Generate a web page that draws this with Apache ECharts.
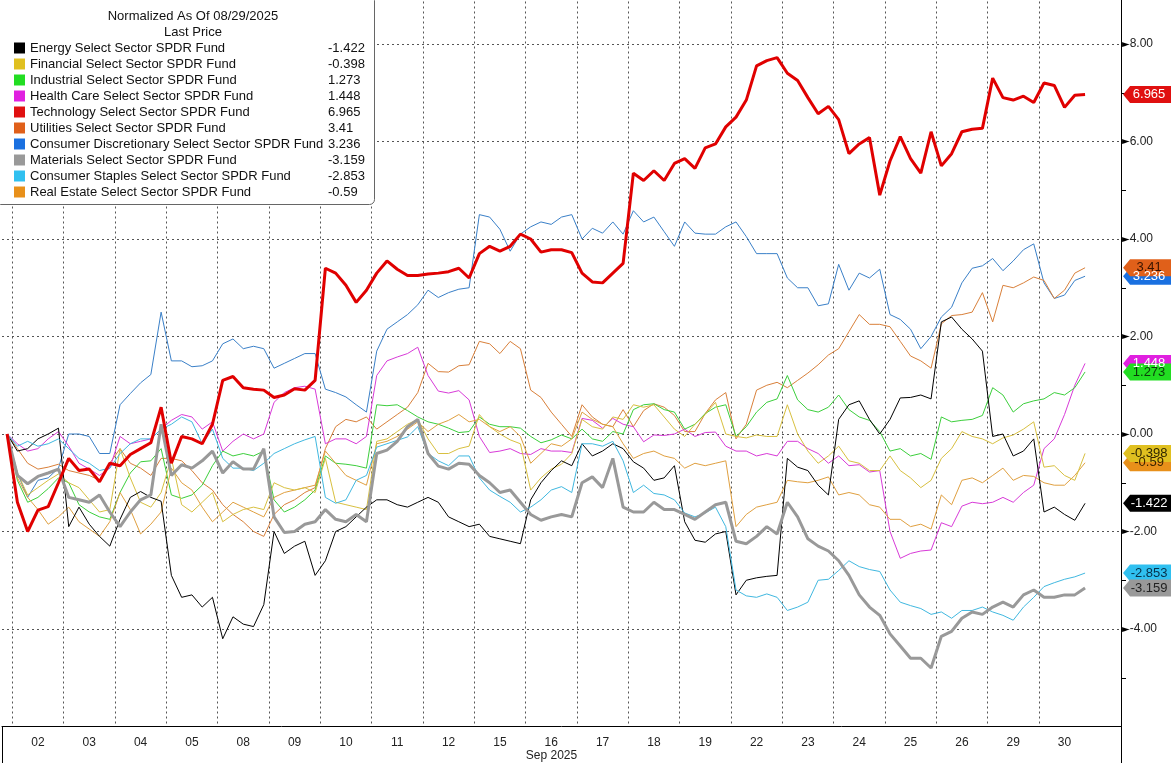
<!DOCTYPE html>
<html>
<head>
<meta charset="utf-8">
<script src="https://cdn.jsdelivr.net/npm/echarts@6/dist/echarts.min.js"></script>
<style>
  html, body { margin: 0; padding: 0; background: #fff; }
  #main { width: 1171px; height: 763px; }
</style>
</head>
<body>
<div id="main"></div>
<script>
// trading days of Sep 2025, 5 intraday points per day, plus the 08/29 base point
const dayLabels = ['02', '03', '04', '05', '08', '09', '10', '11', '12', '15', '16', '17', '18', '19', '22', '23', '24', '25', '26', '29', '30'];
const PTS = 5;

const energy = [0,
  -0.35, -0.3, -0.1, 0.0, 0.12,   -1.9, -1.5, -1.85, -2.1, -2.3,   -1.75, -1.3, -1.18, -1.3, -1.38,
  -2.9, -3.35, -3.3, -3.55, -3.35,   -4.2, -3.75, -3.9, -3.95, -3.5,   -2.0, -2.45, -2.3, -2.2, -2.9,
  -2.6, -2.0, -1.9, -1.7, -1.5,   -1.35, -1.35, -1.45, -1.5, -1.4,   -1.3, -1.4, -1.7, -1.8, -1.9,
  -1.85, -2.1, -2.15, -2.2, -2.25,   -1.35, -1.0, -0.75, -0.55, -0.65,   -0.2, -0.45, -0.35, -0.2, -0.3,
  -0.57, -0.7, -0.95, -0.9, -0.65,   -1.8, -2.18, -2.22, -2.05, -2.0,   -3.3, -3.0, -2.95, -2.92, -2.9,
  -0.5, -0.68, -0.75, -1.05, -1.25,   0.3, 0.6, 0.68, 0.3, 0.0,   0.3, 0.74, 0.75, 0.8, 0.72,
  2.3, 2.4, 2.15, 1.95, 1.7,   -0.05, 0.0, -0.45, -0.35, -0.1,   -1.6, -1.5, -1.65, -1.77, -1.422];

const financial = [0,
  -0.8, -1.25, -1.1, -0.95, -0.82,   -1.0, -1.1, -1.35, -1.6, -1.55,   -0.3, -0.9, -1.4, -1.5, -1.2,
  -0.5, -1.45, -1.6, -1.4, -1.2,   -1.8, -1.65, -1.55, -1.5, -1.55,   -1.0, -1.1, -1.15, -1.1, -1.2,
  -0.5, -1.4, -1.45, -1.5, -1.55,   -0.15, -0.1, 0.05, 0.2, 0.3,   -0.1, -0.4, -0.4, -0.3, -0.25,
  0.4, 0.15, 0.0, -0.12, -0.2,   -1.15, -0.9, -0.72, -0.62, -0.4,   0.3, 0.15, 0.1, 0.35, 0.3,
  0.6, 0.55, 0.6, 0.35, 0.1,   -0.05, 0.2, 0.4, 0.65, 0.0,   -0.05, -0.08, -0.02, -0.05, -0.05,
  0.6, 0.0, -0.35, -0.6, -0.45,   -0.25, -0.55, -0.6, -0.75, -0.75,   -0.45, -0.75, -0.9, -1.1, -0.95,
  -0.5, -0.3, 0.05, -0.05, -0.1,   -0.2, -0.08, -0.02, 0.1, 0.25,   -0.68, -0.65, -0.85, -0.95, -0.398];

const industrial = [0,
  -0.95, -1.4, -1.3, -1.12, -0.9,   -1.0, -1.45, -1.6, -1.7, -1.75,   -1.2, -0.8, -0.57, -0.55, -0.3,
  -1.25, -1.32, -1.25, -1.05, -0.65,   -0.35, -0.45, -0.4, -0.45, -0.35,   -1.35, -1.6, -1.5, -1.35, -1.15,
  -0.45, -0.6, -0.62, -0.65, -0.7,   0.6, 0.58, 0.6, 0.48, 0.35,   0.25, 0.2, 0.12, 0.03, 0.05,
  0.35, 0.2, 0.15, 0.15, 0.12,   -0.05, -0.18, -0.12, -0.02, -0.1,   0.1, -0.1, -0.15, 0.05, 0.0,
  0.5, 0.6, 0.62, 0.5, 0.45,   0.1, 0.2, 0.42, 0.55, 0.6,   -0.05, 0.15, 0.45, 0.65, 0.72,
  1.2, 0.7, 0.5, 0.45, 0.55,   0.8, 0.5, 0.35, 0.28, 0.05,   -0.35, -0.3, -0.45, -0.4, -0.52,
  0.35, 0.25, 0.28, 0.3, 0.38,   0.95, 0.8, 0.45, 0.62, 0.68,   0.72, 0.85, 0.8, 0.95, 1.273];

const healthCare = [0,
  -0.2, -0.35, -0.3, -0.1, 0.05,   -0.25, -0.6, -0.72, -0.85, -0.7,   -0.05, -0.2, -0.15, -0.1, 0.1,
  0.28, 0.4, 0.35, 0.1, 0.25,   -0.35, -0.15, 0.0, -0.1, 0.0,   0.65, 0.85, 0.95, 0.98, 0.92,
  -0.2, -0.1, -0.1, -0.2, -0.05,   1.2, 1.5, 1.58, 1.65, 1.78,   1.2, 0.88, 0.84, 0.89, 0.7,
  -0.05, -0.38, -0.35, -0.3, -0.4,   -0.42, -0.3, -0.35, -0.35, -0.38,   0.32, 0.28, 0.12, 0.32, 0.2,
  0.15, -0.16, -0.02, -0.03, 0.0,   0.1, -0.05, 0.03, 0.04, -0.25,   -0.35, -0.35, -0.45, -0.4, -0.45,
  -0.15, -0.15, -0.3, -0.4, -0.6,   -0.45, -0.65, -0.63, -0.78, -0.75,   -2.0, -2.55, -2.45, -2.4, -2.38,
  -1.82, -1.9, -1.48, -1.4, -1.43,   -1.4, -1.3, -1.4, -1.2, -1.05,   -0.3, -0.1, 0.4, 1.0, 1.448];

const technology = [0,
  -1.4, -2.0, -1.56, -1.49, -1.0,   -0.5, -0.75, -0.72, -0.98, -0.6,   -0.65, -0.42, -0.3, -0.18, 0.55,
  -0.6, -0.05, -0.1, -0.2, 0.2,   1.1, 1.18, 0.95, 0.92, 0.9,   0.75, 0.8, 0.93, 0.9, 1.1,
  3.4, 3.3, 3.05, 2.7, 2.95,   3.3, 3.55, 3.38, 3.25, 3.25,   3.28, 3.3, 3.33, 3.4, 3.2,
  3.7, 3.85, 3.75, 3.85, 4.1,   4.0, 3.73, 3.78, 3.78, 3.72,   3.3, 3.12, 3.1, 3.3, 3.5,
  5.35, 5.2, 5.4, 5.2, 5.55,   5.65, 5.45, 5.87, 5.95, 6.3,   6.5, 6.85, 7.55, 7.66, 7.72,
  7.4, 7.25, 6.9, 6.57, 6.72,   6.45, 5.75, 5.95, 6.08, 4.9,   5.6, 6.1, 5.65, 5.35, 6.2,
  5.5, 5.75, 6.2, 6.25, 6.27,   7.3, 6.9, 6.85, 6.93, 6.8,   7.2, 7.15, 6.7, 6.95, 6.965];

const utilities = [0,
  -0.3, -0.6, -0.72, -0.68, -0.62,   -0.75, -0.8, -0.85, -0.95, -0.6,   -0.3, -0.6, -0.7, -0.85, -0.5,
  -0.5, -0.55, -0.75, -1.0, -1.15,   -1.45, -1.65, -1.8, -2.0, -2.1,   -1.65, -1.45, -1.35, -1.2, -1.1,
  -0.3, 0.15, 0.3, 0.25, 0.35,   0.1, 0.25, 0.4, 0.55, 0.85,   1.45, 1.28, 1.27, 1.4, 1.42,
  1.9, 1.85, 1.65, 1.9, 1.75,   0.9, 0.75, 0.45, 0.2, -0.05,   0.6, 0.35, 0.2, 0.15, 0.5,
  0.15, 0.48, 0.62, 0.55, 0.38,   0.05, 0.05, 0.42, 0.7, 0.85,   -0.1, 0.2, 0.9, 1.0, 1.06,
  0.95, 1.1, 1.25, 1.42, 1.62,   1.75, 2.1, 2.45, 2.25, 2.25,   2.2, 1.9, 1.6, 1.5, 1.35,
  2.26, 2.43, 2.45, 2.5, 2.9,   2.3, 3.05, 3.0, 3.1, 3.22,   3.15, 2.78, 2.95, 3.3, 3.41];

const consDiscretionary = [0,
  -0.8, -1.3, -0.95, -0.9, -0.7,   0.0, 0.0, -0.05, -0.4, -0.4,   0.6, 0.83, 1.05, 1.22, 2.5,
  1.5, 1.5, 1.38, 1.4, 1.5,   1.85, 1.95, 1.75, 1.8, 1.75,   1.35, 1.45, 1.55, 1.65, 1.65,
  0.92, 0.85, 0.76, 0.6, 0.45,   1.7, 2.15, 2.3, 2.45, 2.65,   2.95, 2.8, 2.9, 2.97, 3.0,
  4.5, 4.45, 4.2, 3.75, 4.1,   4.25, 4.35, 4.3, 4.45, 4.5,   4.0, 4.22, 4.12, 4.35, 4.1,
  4.58, 4.35, 4.45, 4.15, 3.85,   4.35, 4.12, 4.1, 4.1, 4.25,   4.35, 4.05, 3.7, 3.7, 3.7,
  3.2, 3.0, 3.0, 2.63, 2.67,   3.48, 2.95, 3.3, 3.2, 3.38,   2.45, 2.35, 2.15, 1.75, 2.0,
  2.4, 2.6, 3.1, 3.4, 3.45,   3.6, 3.35, 3.55, 3.78, 3.9,   3.1, 2.78, 2.85, 3.15, 3.236];

const materials = [0,
  -0.85, -1.02, -0.87, -0.8, -0.72,   -1.3, -1.35, -1.4, -1.25, -1.6,   -1.9, -1.6, -1.35, -1.25, 0.2,
  -0.85, -0.63, -0.7, -0.55, -0.35,   -0.8, -0.57, -0.72, -0.72, -0.3,   -1.7, -2.02, -2.0, -1.85, -1.8,
  -1.55, -1.75, -1.8, -1.65, -1.8,   -0.4, -0.33, -0.15, 0.15, 0.3,   -0.4, -0.66, -0.72, -0.6, -0.62,
  -0.85, -1.0, -1.2, -1.15, -1.4,   -1.65, -1.77, -1.7, -1.65, -1.7,   -1.0, -0.88, -1.1, -0.5, -1.5,
  -1.6, -1.6, -1.4, -1.55, -1.55,   -1.65, -1.75, -1.6, -1.45, -1.4,   -2.2, -2.25, -2.1, -1.9, -2.05,
  -1.4, -1.7, -2.15, -2.3, -2.4,   -2.6, -2.9, -3.3, -3.55, -3.72,   -4.1, -4.35, -4.6, -4.6, -4.8,
  -4.15, -4.05, -3.78, -3.65, -3.7,   -3.55, -3.45, -3.55, -3.3, -3.2,   -3.35, -3.35, -3.3, -3.3, -3.159];

const consStaples = [0,
  -0.25, -0.15, -0.25, -0.2, -0.1,   -0.3, -0.5, -0.6, -0.75, -0.7,   -0.4, -0.2, -0.1, -0.1, 0.1,
  0.2, 0.35, 0.25, -0.2, 0.1,   -0.5, -0.7, -0.7, -0.75, -0.6,   -0.4, -0.3, -0.2, -0.12, -0.05,
  -1.3, -1.42, -1.35, -0.95, -0.85,   -0.27, -0.2, -0.13, -0.06, 0.15,   -0.4, -0.55, -0.65, -0.45, -0.45,
  -0.9, -1.15, -1.28, -1.4, -1.6,   -1.5, -1.35, -1.15, -1.08, -1.2,   -0.2, -0.2, -0.25, -0.15, -0.55,
  -1.2, -1.05, -1.22, -1.25, -1.35,   -1.62, -1.7, -1.62, -1.5, -1.9,   -3.2, -3.32, -3.35, -3.28, -3.35,
  -3.62, -3.55, -3.45, -3.0, -2.98,   -2.8, -2.6, -2.72, -2.78, -2.82,   -3.2, -3.45, -3.52, -3.58, -3.7,
  -3.65, -3.78, -3.62, -3.62, -3.55,   -3.65, -3.72, -3.82, -3.55, -3.35,   -3.13, -3.05, -2.98, -2.93, -2.853];

const realEstate = [0,
  -0.9, -1.3, -1.55, -1.85, -1.7,   -1.5, -1.8, -1.95, -2.1, -1.8,   -1.2, -1.55, -2.05, -1.85, -1.6,
  -0.7, -1.0, -1.15, -1.5, -1.8,   -1.6, -1.4, -1.5, -1.6, -1.7,   -1.3, -1.2, -1.15, -1.1, -1.05,
  -0.35, -0.6, -0.85, -0.95, -1.05,   -0.2, -0.15, -0.05, 0.1, 0.25,   0.05, 0.2, 0.28, 0.4, 0.25,
  0.3, 0.15, 0.05, 0.15, -0.05,   -0.6, -0.4, -0.2, -0.25, -0.1,   0.45, 0.3, 0.2, 0.15, -0.2,
  -0.5, -0.4, -0.35, -0.45, -0.5,   -0.7, -0.6, -0.65, -0.6, -0.55,   -1.9, -1.65, -1.5, -1.45, -1.4,
  -0.95, -0.98, -1.0, -0.95, -0.88,   -1.25, -1.2, -1.25, -1.45, -1.5,   -1.75, -1.75, -1.9, -1.85, -1.95,
  -1.25, -1.45, -0.95, -0.9, -1.0,   -0.85, -0.7, -0.95, -0.85, -0.87,   -1.0, -1.05, -1.05, -0.85, -0.59];

// legend order as in the original panel
const legendNames = [
  'Energy Select Sector SPDR Fund',
  'Financial Select Sector SPDR Fund',
  'Industrial Select Sector SPDR Fund',
  'Health Care Select Sector SPDR Fund',
  'Technology Select Sector SPDR Fund',
  'Utilities Select Sector SPDR Fund',
  'Consumer Discretionary Select Sector SPDR Fund',
  'Materials Select Sector SPDR Fund',
  'Consumer Staples Select Sector SPDR Fund',
  'Real Estate Select Sector SPDR Fund'
];
const lastPrice = ['-1.422', '-0.398', '1.273', '1.448', '6.965', '3.41', '3.236', '-3.159', '-2.853', '-0.59'];

const categories = [''];
dayLabels.forEach(function (d) {
  for (let j = 0; j < PTS; j++) categories.push(d);
});
categories.push('', '', '');

// drawing order (later on top)
const seriesList = [
  { name: legendNames[6], data: consDiscretionary, color: '#3a80c8', icon: '#1a70e0', width: 1, text: '#fff' },
  { name: legendNames[5], data: utilities, color: '#d9803a', icon: '#e0601a', width: 1, text: '#3a1400' },
  { name: legendNames[3], data: healthCare, color: '#d83ad8', icon: '#e020e0', width: 1, text: '#fff' },
  { name: legendNames[2], data: industrial, color: '#3ccf3c', icon: '#22dd22', width: 1, text: '#0b3a0b' },
  { name: legendNames[9], data: realEstate, color: '#e0a040', icon: '#e8901a', width: 1, text: '#3a2400' },
  { name: legendNames[1], data: financial, color: '#d8c040', icon: '#e0c020', width: 1, text: '#2e2600' },
  { name: legendNames[0], data: energy, color: '#000000', icon: '#000000', width: 1, text: '#fff' },
  { name: legendNames[8], data: consStaples, color: '#40b8e0', icon: '#30c0f0', width: 1, text: '#06304a' },
  { name: legendNames[7], data: materials, color: '#999999', icon: '#999999', width: 3, text: '#222' },
  { name: legendNames[4], data: technology, color: '#e00000', icon: '#e01010', width: 3, text: '#fff' }
];

const tagPath = 'path://M0,8 L7,0 L48,0 L48,16 L7,16 Z';

const chart = echarts.init(document.getElementById('main'));

const option = {
  backgroundColor: '#fff',
  animation: false,
  textStyle: { fontFamily: 'Liberation Sans, Arial, sans-serif' },
  title: {
    text: 'Normalized As Of 08/29/2025\nLast Price',
    left: 188,
    top: 3,
    textAlign: 'center',
    z: 20,
    textStyle: { fontSize: 13, fontWeight: 'normal', color: '#111', lineHeight: 16 }
  },
  graphic: [{
    type: 'rect',
    left: -5,
    top: -5,
    z: 10,
    shape: { width: 379, height: 209, r: 5 },
    style: { fill: '#fff', stroke: '#666', lineWidth: 1 }
  }],
  legend: {
    orient: 'vertical',
    left: 9,
    top: 35,
    z: 20,
    icon: 'rect',
    itemWidth: 11,
    itemHeight: 11,
    itemGap: 0,
    selectedMode: false,
    data: legendNames,
    formatter: function (name) {
      return '{n|' + name + '}{v|' + lastPrice[legendNames.indexOf(name)] + '}';
    },
    textStyle: {
      fontSize: 13,
      color: '#111',
      lineHeight: 16,
      rich: {
        n: { width: 298, fontSize: 13, color: '#111', lineHeight: 16 },
        v: { fontSize: 13, color: '#111', lineHeight: 16 }
      }
    }
  },
  grid: { left: 2, right: 50, top: -53.5, bottom: 36.5, outerBoundsMode: 'none' },
  xAxis: {
    type: 'category',
    data: categories,
    boundaryGap: true,
    axisLine: { onZero: false, lineStyle: { color: '#000', width: 1 } },
    axisTick: {
      show: true,
      interval: function (i) { return i === 1; },
      length: 37,
      lineStyle: { color: '#000' }
    },
    axisLabel: {
      interval: function (i) { return i >= 1 && i <= 105 && (i - 1) % PTS === 2; },
      color: '#222',
      fontSize: 12,
      margin: 10
    },
    splitLine: {
      show: true,
      interval: function (i) { return i >= 1 && i <= 101 && (i - 1) % PTS === 0; },
      lineStyle: { color: '#555', type: [2, 3], width: 1 }
    },
    name: 'Sep 2025',
    nameLocation: 'middle',
    nameGap: 23,
    nameMoveOverlap: false,
    nameTextStyle: { color: '#222', fontSize: 12, padding: [0, 20, 0, 0] }
  },
  yAxis: {
    type: 'value',
    position: 'right',
    min: -6,
    max: 10,
    interval: 2,
    axisLine: { show: true, lineStyle: { color: '#000', width: 1 } },
    axisTick: { show: false },
    minorTick: { show: true, splitNumber: 2, length: 5, lineStyle: { color: '#000' } },
    splitLine: { show: true, lineStyle: { color: '#555', type: [2, 3], width: 1 } },
    axisLabel: {
      margin: 1,
      color: '#222',
      fontSize: 12,
      formatter: function (v) {
        if (v < -4 || v > 8) return '';
        return '{t|►}' + v.toFixed(2);
      },
      rich: { t: { fontSize: 10, color: '#000', fontFamily: 'DejaVu Sans' } }
    }
  },
  series: seriesList.map(function (s) {
    const last = s.data.length - 1;
    return {
      name: s.name,
      type: 'line',
      data: s.data,
      symbol: 'none',
      showSymbol: false,
      color: s.icon,
      lineStyle: { color: s.color, width: s.width },
      markPoint: {
        symbol: tagPath,
        symbolSize: [48, 17],
        symbolKeepAspect: false,
        symbolOffset: [62, 0],
        itemStyle: { color: s.icon },
        label: {
          show: true,
          color: s.text,
          fontSize: 13,
          offset: [2, 0],
          formatter: lastPrice[legendNames.indexOf(s.name)]
        },
        data: [{ coord: [last, s.data[last]] }]
      }
    };
  })
};

chart.setOption(option);
</script>
</body>
</html>
